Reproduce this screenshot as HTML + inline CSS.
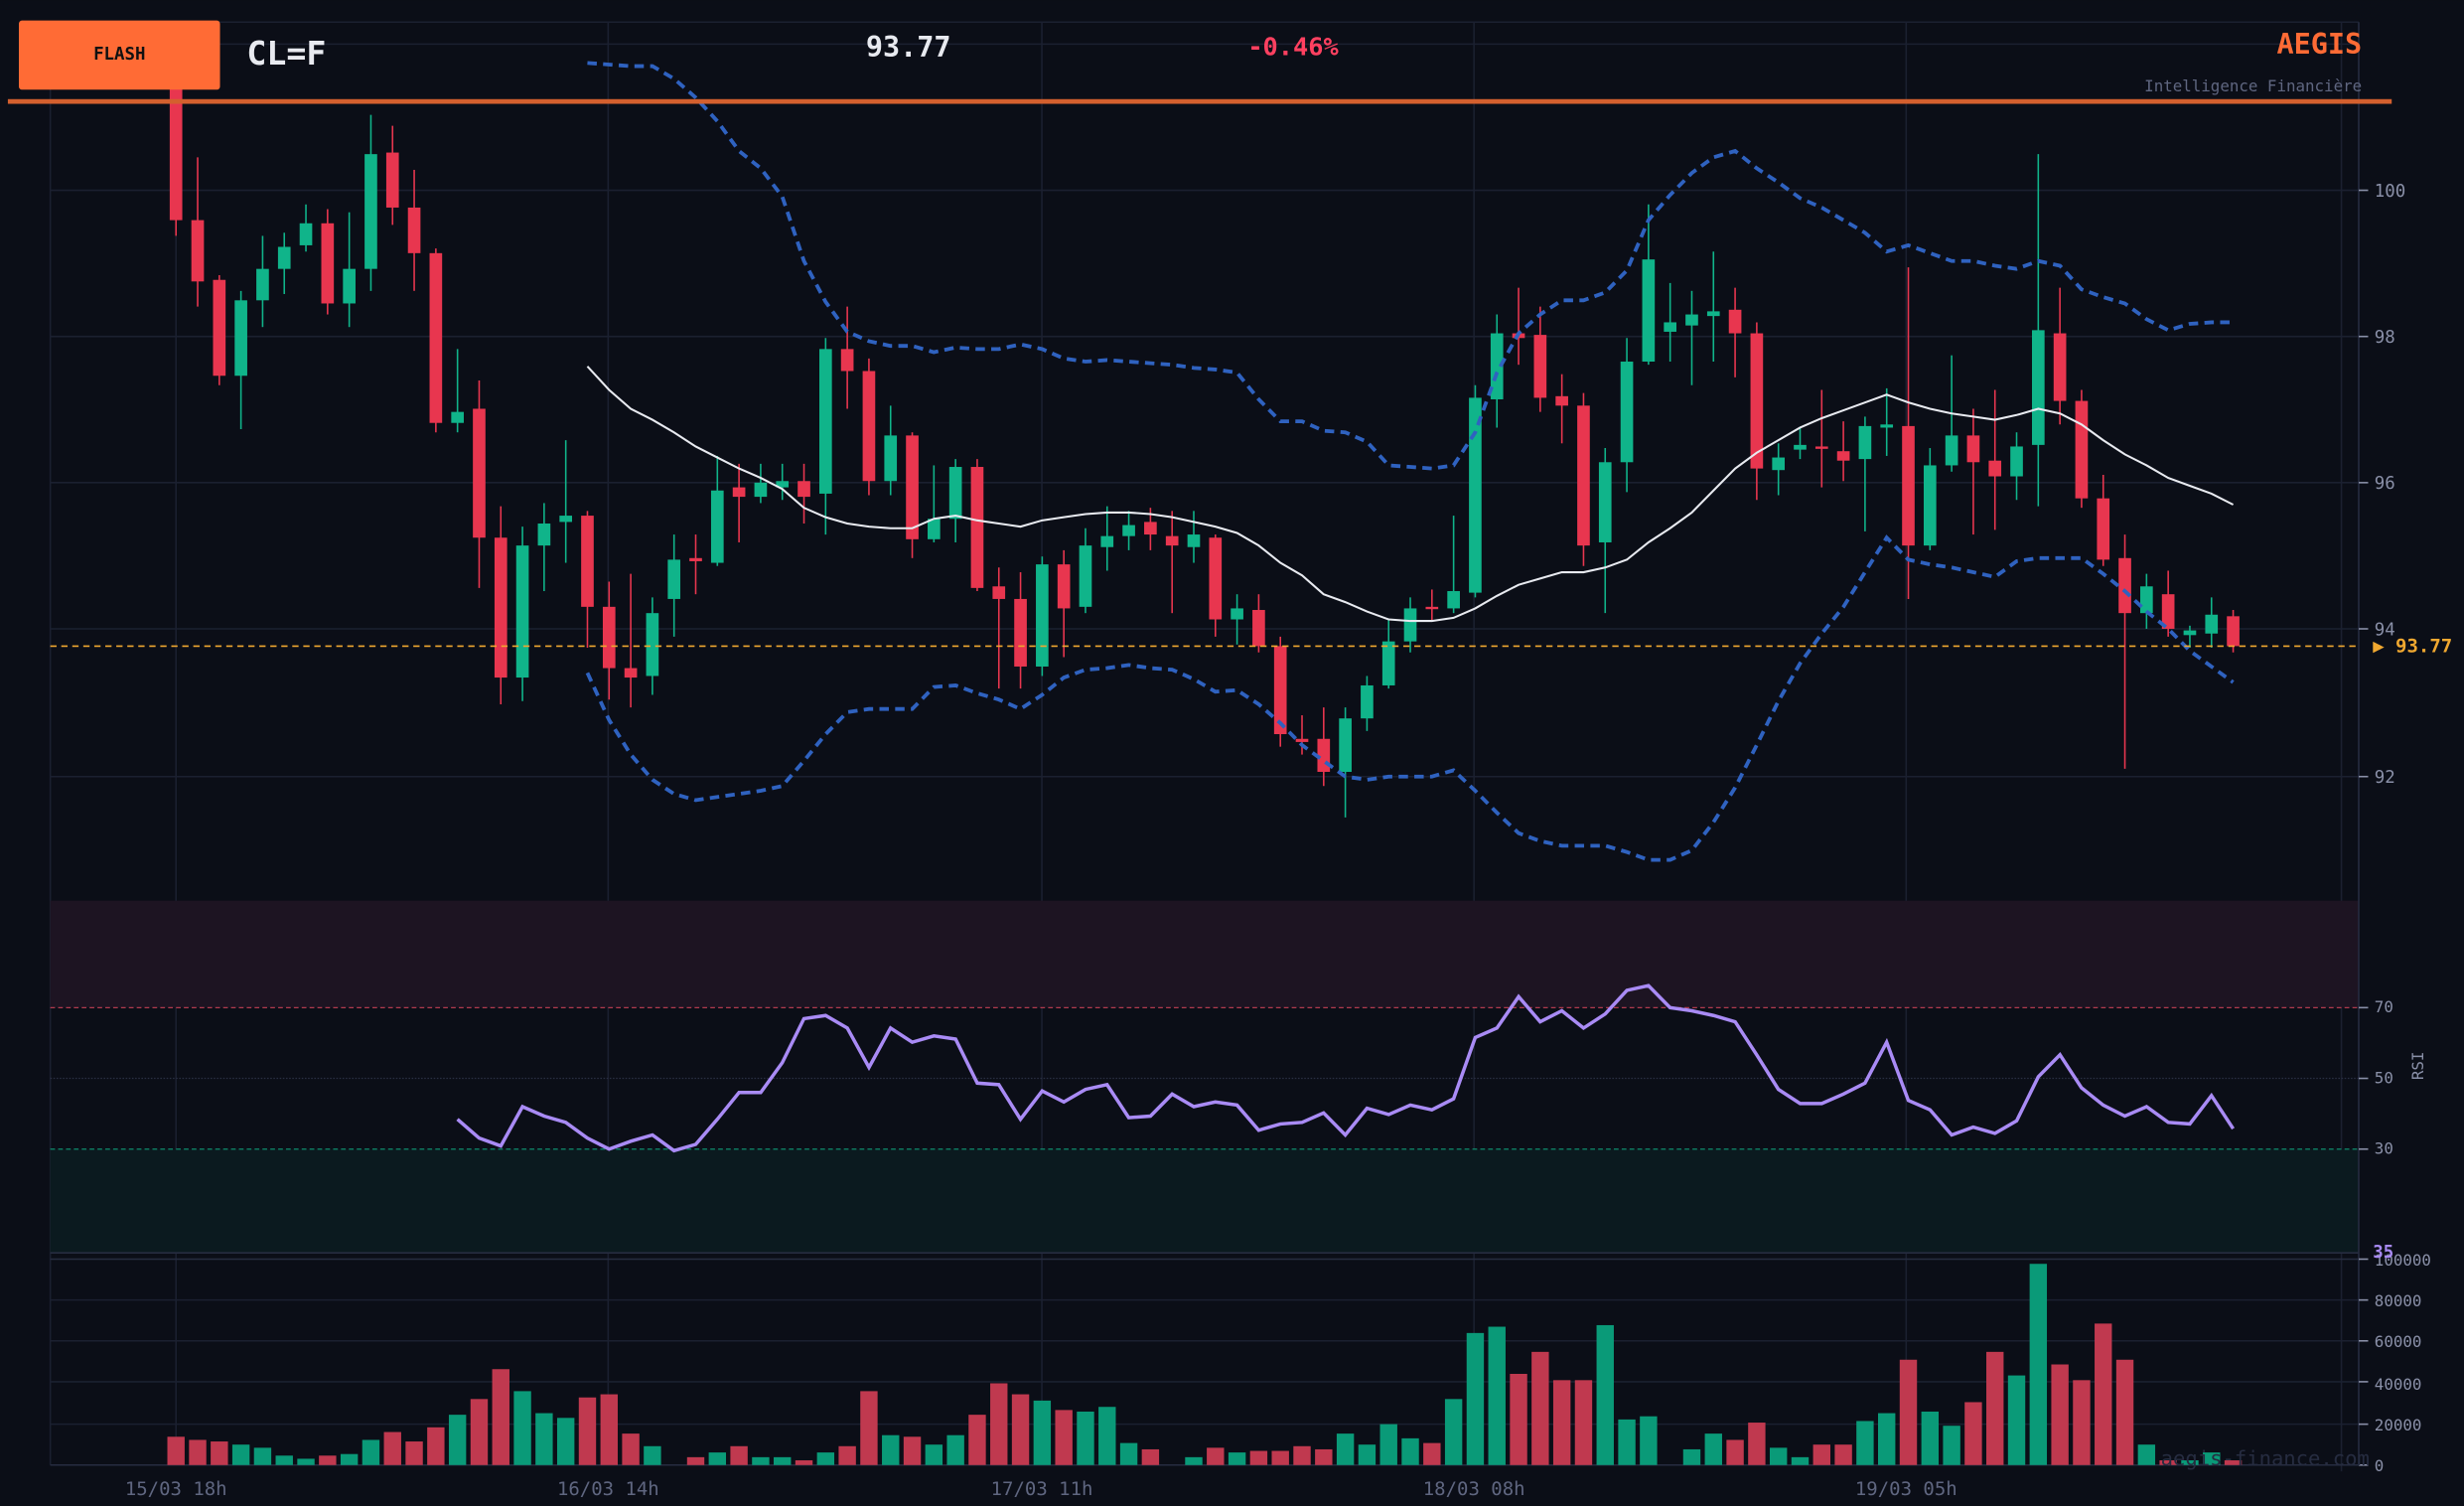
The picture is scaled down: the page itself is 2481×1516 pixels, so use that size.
<!DOCTYPE html>
<html><head><meta charset="utf-8"><style>
html,body{margin:0;padding:0;background:#0b0e17;}
svg{display:block;}
text{font-family:"DejaVu Sans Mono","Liberation Mono",monospace;}
</style></head><body>
<svg id="s" width="2481" height="1516" viewBox="0 0 1568 958" xmlns="http://www.w3.org/2000/svg">
<rect width="1568" height="958" fill="#0b0e17"/>
<g id="grid" stroke="#1b2030" stroke-width="1">
<line x1="112" y1="14" x2="112" y2="932"/><line x1="387" y1="14" x2="387" y2="932"/><line x1="663" y1="14" x2="663" y2="932"/><line x1="938" y1="14" x2="938" y2="932"/><line x1="1213" y1="14" x2="1213" y2="932"/><line x1="1490" y1="14" x2="1490" y2="936"/><line x1="32" y1="14" x2="32" y2="932"/>
<line x1="32" y1="14" x2="1501" y2="14"/>
<line x1="32" y1="28" x2="1501" y2="28"/><line x1="32" y1="121" x2="1501" y2="121"/><line x1="32" y1="214" x2="1501" y2="214"/><line x1="32" y1="307" x2="1501" y2="307"/><line x1="32" y1="400" x2="1501" y2="400"/><line x1="32" y1="494" x2="1501" y2="494"/>
<line x1="32" y1="827" x2="1501" y2="827"/><line x1="32" y1="853" x2="1501" y2="853"/><line x1="32" y1="879" x2="1501" y2="879"/><line x1="32" y1="906" x2="1501" y2="906"/>
</g>
<rect x="32" y="573" width="1469" height="68" fill="#1d1422"/>
<rect x="32" y="731" width="1469" height="66" fill="#0b1a1f"/>
<line x1="32" y1="641" x2="1501" y2="641" stroke="#b03a4e" stroke-width="0.8" stroke-dasharray="3,2"/>
<line x1="32" y1="731" x2="1501" y2="731" stroke="#0f8a6c" stroke-width="0.8" stroke-dasharray="3,2"/>
<line x1="32" y1="686" x2="1501" y2="686" stroke="#2a2f42" stroke-width="0.8" stroke-dasharray="1,1"/>
<line x1="32" y1="797" x2="1501" y2="797" stroke="#262c40" stroke-width="1"/>
<line x1="32" y1="801" x2="1501" y2="801" stroke="#262c40" stroke-width="1"/>
<line x1="32" y1="932" x2="1501" y2="932" stroke="#262c40" stroke-width="1"/>
<line x1="1501" y1="14" x2="1501" y2="932" stroke="#262c40" stroke-width="1"/>
<g id="vol"></g><g id="cnd"></g><g id="lines"></g>
<line x1="32" y1="411" x2="1501" y2="411" stroke="#f0a830" stroke-width="1" stroke-dasharray="4,3"/>
<text x="1510" y="415" fill="#f0a830" font-size="12" font-weight="bold">▶ 93.77</text>
<g fill="#8a90a8" font-size="11">
<text x="1511" y="125">100</text><text x="1511" y="218">98</text><text x="1511" y="311">96</text><text x="1511" y="404">94</text><text x="1511" y="498">92</text>
<text x="1511" y="644" font-size="10">70</text><text x="1511" y="689" font-size="10">50</text><text x="1511" y="734" font-size="10">30</text>
<text x="1511" y="805" font-size="10">100000</text><text x="1511" y="831" font-size="10">80000</text><text x="1511" y="857" font-size="10">60000</text><text x="1511" y="884" font-size="10">40000</text><text x="1511" y="910" font-size="10">20000</text><text x="1511" y="936" font-size="10">0</text>
<text x="1534" y="695" font-size="10" transform="rotate(-90 1534 687)">RSI</text>
</g>
<g stroke="#8a90a8"><line x1="1501" y1="121" x2="1507" y2="121"/><line x1="1501" y1="214" x2="1507" y2="214"/><line x1="1501" y1="307" x2="1507" y2="307"/><line x1="1501" y1="400" x2="1507" y2="400"/><line x1="1501" y1="494" x2="1507" y2="494"/><line x1="1501" y1="641" x2="1507" y2="641"/><line x1="1501" y1="686" x2="1507" y2="686"/><line x1="1501" y1="731" x2="1507" y2="731"/><line x1="1501" y1="801" x2="1507" y2="801"/><line x1="1501" y1="827" x2="1507" y2="827"/><line x1="1501" y1="853" x2="1507" y2="853"/><line x1="1501" y1="879" x2="1507" y2="879"/><line x1="1501" y1="906" x2="1507" y2="906"/><line x1="1501" y1="932" x2="1507" y2="932"/></g>
<text x="1510" y="800" fill="#a98bf5" font-size="11" font-weight="bold">35</text>
<text x="1375" y="932" fill="#262c40" font-size="13">aegis-finance.com</text>
<g fill="#5f6680" font-size="12" text-anchor="middle">
<text x="112" y="951">15/03 18h</text><text x="387" y="951">16/03 14h</text><text x="663" y="951">17/03 11h</text><text x="938" y="951">18/03 08h</text><text x="1213" y="951">19/03 05h</text></g>
<rect x="5" y="63" width="1517" height="3" fill="#d4602e"/>
<rect x="12" y="13" width="128" height="44" rx="2" fill="#ff6b35"/>
<text x="76" y="38" fill="#111" font-size="11" font-weight="bold" text-anchor="middle">FLASH</text>
<text x="157" y="41" fill="#e8eaf0" font-size="21" font-weight="bold">CL=F</text>
<text x="551" y="36" fill="#e8eaf0" font-size="18" font-weight="bold">93.77</text>
<text x="794" y="35" fill="#ff4060" font-size="16" font-weight="bold">-0.46%</text>
<text x="1503" y="34" fill="#ff6b35" font-size="18" font-weight="bold" text-anchor="end">AEGIS</text>
<text x="1503" y="58" fill="#5f6680" font-size="10" text-anchor="end">Intelligence Financière</text>
</svg>
<script>
var C=[[0,50,140,40,150],[0,140,179,100,195],[0,178,239,175,245],[1,191,239,185,273],[1,171,191,150,208],[1,157,171,148,187],[1,142,156,130,160],[0,142,193,133,200],[1,171,193,135,208],[1,98,171,73,185],[0,97,132,80,143],[0,132,161,108,185],[0,161,269,158,275],[1,262,269,222,275],[0,260,342,242,374],[0,342,431,322,448],[1,347,431,335,446],[1,333,347,320,376],[1,328,332,280,358],[0,328,386,325,412],[0,386,425,370,445],[0,425,431,365,450],[1,390,430,380,442],[1,356,381,340,405],[0,355,357,340,378],[1,312,358,290,360],[0,310,316,295,345],[1,307,316,295,320],[1,306,310,295,318],[0,306,316,295,333],[1,222,314,215,340],[0,222,236,195,260],[0,236,306,228,315],[1,277,306,258,315],[0,277,343,275,355],[1,330,343,296,345],[1,297,330,292,345],[0,297,374,292,376],[0,373,381,361,438],[0,381,424,364,438],[1,359,424,354,430],[0,359,387,350,418],[1,347,386,336,390],[1,341,348,322,363],[1,334,341,325,350],[0,332,340,323,350],[0,341,347,325,390],[1,340,348,325,358],[0,342,394,340,405],[1,387,394,378,410],[0,388,411,378,415],[0,411,467,405,475],[0,470,472,455,480],[0,470,491,450,500],[1,457,491,450,520],[1,436,457,430,465],[1,408,436,394,438],[1,387,408,380,415],[0,386,387,375,395],[1,376,387,328,390],[1,253,377,245,380],[1,212,254,200,272],[0,212,215,183,232],[0,213,253,195,262],[0,252,258,238,282],[0,258,347,250,360],[1,294,345,285,390],[1,230,294,215,313],[1,165,230,130,232],[1,205,211,180,230],[1,200,207,185,245],[1,198,201,160,230],[0,197,212,183,240],[0,212,298,205,318],[1,291,299,282,315],[1,283,286,272,292],[0,284,285,248,310],[0,287,293,268,306],[1,271,292,265,338],[1,270,272,247,290],[0,271,347,170,381],[1,296,347,285,350],[1,277,296,226,300],[0,277,294,260,340],[0,293,303,248,337],[1,284,303,275,318],[1,210,283,98,322],[0,212,255,183,270],[0,255,317,248,323],[0,317,356,302,360],[0,355,390,340,489],[1,373,390,365,400],[0,378,400,363,405],[1,401,404,398,412],[1,391,403,380,412],[0,392,411,388,415]];
var V=[914,916,917,919,921,926,928,926,925,916,911,917,908,900,890,871,885,899,902,889,887,912,920,932,927,924,920,927,927,929,924,920,885,913,914,919,913,900,880,887,891,897,898,895,918,922,932,927,921,924,923,923,920,922,912,919,906,915,918,890,848,844,874,860,878,878,843,903,901,932,922,912,916,905,921,927,919,919,904,899,865,898,907,892,860,875,804,868,878,842,865,919,929,929,924,929];
function X(i){return 112+i*13.78;}
var h1='',h2='';
C.forEach(function(c,i){var x=X(i),col=c[0]?'#10b48a':'#e8364f';
h1+='<line x1="'+x+'" y1="'+c[3]+'" x2="'+x+'" y2="'+c[4]+'" stroke="'+col+'" stroke-width="1"/>';
h1+='<rect x="'+(x-4)+'" y="'+c[1]+'" width="8" height="'+Math.max(1.5,c[2]-c[1])+'" fill="'+col+'"/>';
var vc=c[0]?'#0a9a78':'#c0394f';
h2+='<rect x="'+(x-5.5)+'" y="'+V[i]+'" width="11" height="'+(932-V[i])+'" fill="'+vc+'"/>';});
document.getElementById('cnd').innerHTML=h1;document.getElementById('vol').innerHTML=h2;
var M=[233,248,260,267,275,284,291,298,304,311,323,329,333,335,336,336,330,328,331,333,335,331,329,327,326,326,327,329,332,335,339,347,358,366,378,383,389,394,395,395,393,387,379,372,368,364,364,361,356,345,336,326,312,298,288,280,272,266,261,256,251,256,260,263,265,267,264,260,263,270,280,289,296,304,309,314,321];
var U=[40,41,42,42,50,62,77,96,107,125,166,192,211,217,220,220,224,221,222,222,219,222,228,230,229,230,231,232,234,235,237,254,268,268,274,275,281,296,297,298,296,275,237,212,200,191,191,186,172,140,124,110,100,96,107,116,126,132,140,148,160,156,161,166,166,169,171,166,169,184,189,193,203,210,206,205,205];
var L=[428,458,480,496,505,509,507,505,503,500,484,467,453,451,451,451,437,436,441,445,451,442,431,426,425,423,425,426,432,440,439,448,460,474,484,494,496,494,494,494,490,503,517,530,535,538,538,538,542,547,547,541,523,501,474,446,422,403,386,364,342,356,359,361,364,367,357,355,355,355,365,376,389,400,414,424,434];
var R=[712,724,729,704,710,714,724,731,726,722,732,728,712,695,695,676,648,646,654,679,654,663,659,661,689,690,712,694,701,693,690,711,710,696,704,701,703,719,715,714,708,722,705,709,703,706,699,660,654,634,650,643,654,645,630,627,641,643,646,650,671,693,702,702,696,689,663,700,706,722,717,721,713,685,671,692,703,710,704,714,715,697,718];
function P(a,s){return a.map(function(y,k){return X(k+s).toFixed(1)+','+y}).join(' ');}
var h3='<polyline points="'+P(U,19)+'" fill="none" stroke="#2f62c0" stroke-width="2.4" stroke-dasharray="6,4"/>'+
'<polyline points="'+P(L,19)+'" fill="none" stroke="#2f62c0" stroke-width="2.4" stroke-dasharray="6,4"/>'+
'<polyline points="'+P(M,19)+'" fill="none" stroke="#e8eaf0" stroke-width="1.3"/>'+
'<polyline points="'+P(R,13)+'" fill="none" stroke="#a98bf5" stroke-width="2.2"/>';
document.getElementById('lines').innerHTML=h3;
</script>
</body></html>
